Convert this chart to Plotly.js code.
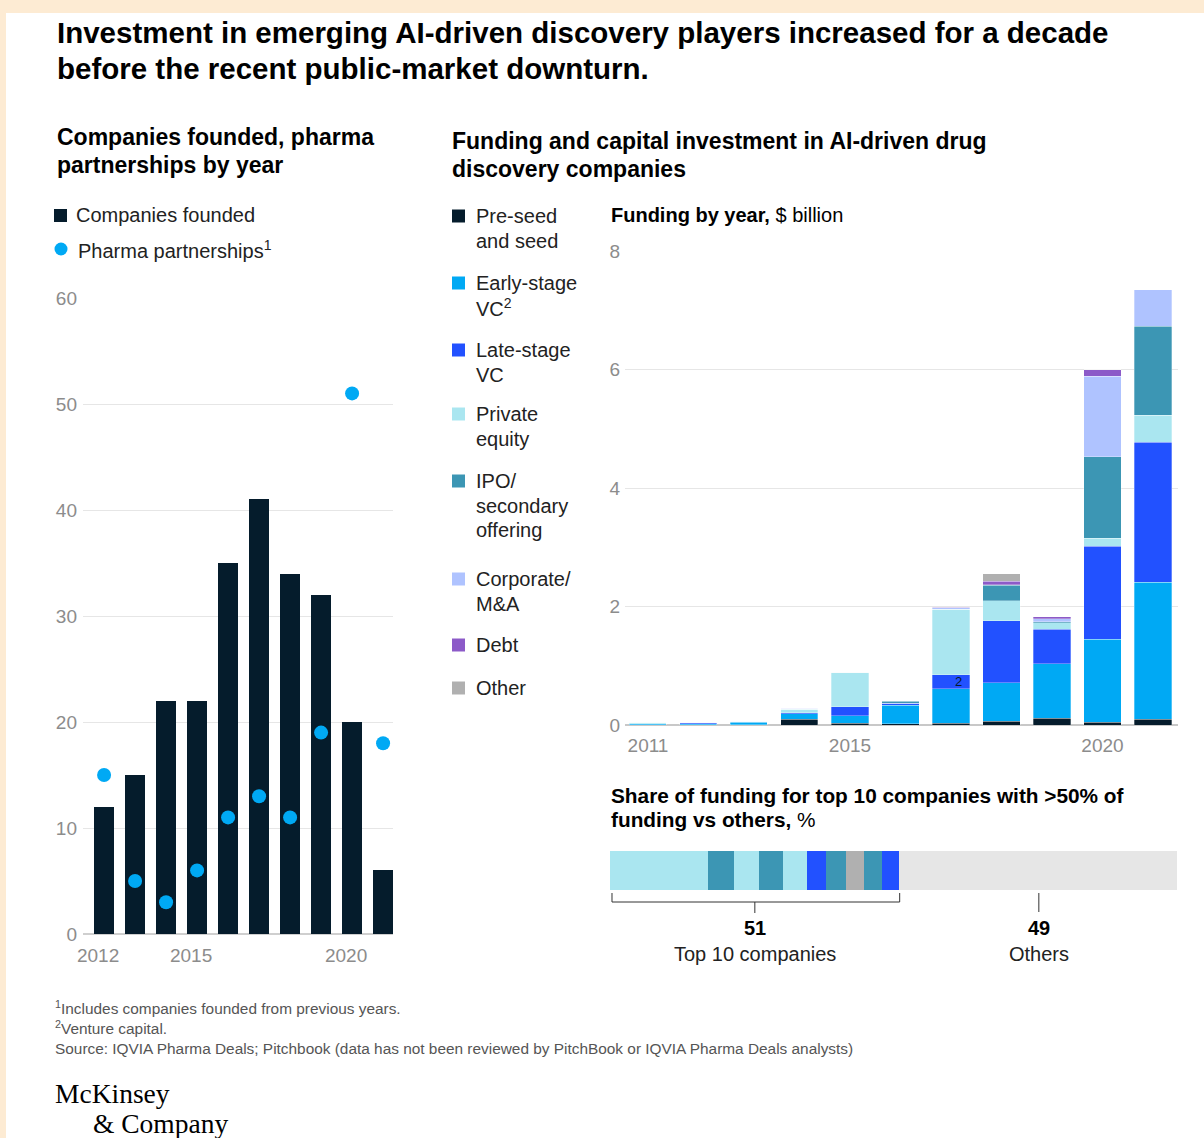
<!DOCTYPE html>
<html>
<head>
<meta charset="utf-8">
<script src="https://cdn.plot.ly/plotly-3.0.1.min.js"></script>
<style>
  html, body { margin: 0; padding: 0; background: #ffffff; }
  #chart { width: 1204px; height: 1138px; }
</style>
</head>
<body>
<div id="chart"></div>
<script>
// ---------------- DATA ----------------
const leftYears = [2012, 2013, 2014, 2015, 2016, 2017, 2018, 2019, 2020, 2021];
const companiesFounded = [12, 15, 22, 22, 35, 41, 34, 32, 20, 6];
const pharmaPartnerships = [15, 5, 3, 6, 11, 13, 11, 19, 51, 18];
const leftXTicks = [2012, 2015, 2020];
const leftYTicks = [0, 10, 20, 30, 40, 50, 60];

const fundYears = [2011, 2012, 2013, 2014, 2015, 2016, 2017, 2018, 2019, 2020, 2021];
const preSeed       = [0.005, 0.005, 0.005, 0.10, 0.03, 0.02, 0.03, 0.06, 0.115, 0.05, 0.10];
const earlyVC       = [0.02, 0.02, 0.04, 0.09, 0.125, 0.31, 0.585, 0.655, 0.92, 1.40, 2.31];
const lateVC        = [0.0, 0.02, 0.015, 0.02, 0.155, 0.04, 0.23, 1.045, 0.58, 1.57, 2.36];
const privateEquity = [0.02, 0, 0, 0.055, 0.58, 0, 1.11, 0.335, 0.115, 0.13, 0.46];
const ipoSecondary  = [0, 0, 0, 0, 0, 0.03, 0, 0.26, 0.015, 1.38, 1.5];
const corporateMA   = [0, 0, 0, 0.02, 0, 0.01, 0.02, 0.01, 0.05, 1.36, 0.62];
const debt          = [0, 0, 0, 0, 0, 0, 0.01, 0.06, 0.03, 0.11, 0];
const otherFunding  = [0, 0, 0, 0, 0, 0, 0, 0.125, 0, 0, 0];
const fundXTicks = [2011, 2015, 2020];
const fundYTicks = [0, 2, 4, 6, 8];

const shareCategories = ['Private equity', 'IPO', 'Private equity', 'IPO', 'Private equity',
                         'Late-stage VC', 'IPO', 'Other', 'IPO', 'Late-stage VC', 'Others'];
const shareValues = [17.2, 4.6, 4.5, 4.1, 4.2, 3.5, 3.4, 3.2, 3.1, 3.0, 49];
const shareTop10 = 51;
const shareOthers = 49;

// ---------------- STYLE ----------------
const W = 1204, H = 1138;
const FONT = 'Liberation Sans, Arial, sans-serif';
const SERIF = 'Liberation Serif, Times New Roman, serif';
const TICK_COLOR = '#8c8c8c';
const GRID = '#e6e6e6';
const C = {
  preSeed: '#051c2c', early: '#00a9f4', late: '#2251ff', pe: '#aae6f0',
  ipo: '#3c96b4', corp: '#afc3ff', debt: '#8c5ac8', other: '#b0b0b0', others: '#e6e6e6'
};
const shareColor = {
  'Private equity': C.pe, 'IPO': C.ipo, 'Late-stage VC': C.late, 'Other': C.other, 'Others': C.others
};

function px(x) { return x / W; }
function py(y) { return 1 - y / H; }
function txt(x, y, text, size, color, family, extra) {
  return Object.assign({
    xref: 'paper', yref: 'paper', x: px(x), y: py(y), xanchor: 'left', yanchor: 'middle',
    text: text, showarrow: false,
    font: { family: family || FONT, size: size, color: color || '#222222' }
  }, extra || {});
}

// ---------------- TRACES ----------------
const traces = [];
traces.push({
  type: 'bar', x: leftYears, y: companiesFounded, xaxis: 'x', yaxis: 'y',
  width: 0.645, marker: { color: C.preSeed }, hoverinfo: 'skip', showlegend: false
});
traces.push({
  type: 'scatter', mode: 'markers', x: leftYears, y: pharmaPartnerships, xaxis: 'x', yaxis: 'y',
  marker: { color: C.early, size: 14 }, hoverinfo: 'skip', showlegend: false
});

const fundSeries = [
  [preSeed, C.preSeed], [earlyVC, C.early], [lateVC, C.late], [privateEquity, C.pe],
  [ipoSecondary, C.ipo], [corporateMA, C.corp], [debt, C.debt], [otherFunding, C.other]
];
fundSeries.forEach(([vals, col]) => {
  traces.push({
    type: 'bar', x: fundYears, y: vals, xaxis: 'x2', yaxis: 'y2', width: 0.733,
    marker: { color: col, line: { color: 'rgba(255,255,255,0.5)', width: 0.6 } },
    hoverinfo: 'skip', showlegend: false
  });
});

shareValues.forEach((v, i) => {
  traces.push({
    type: 'bar', orientation: 'h', x: [v], y: [0], xaxis: 'x3', yaxis: 'y3', width: 1,
    marker: { color: shareColor[shareCategories[i]], line: { width: 0 } },
    hoverinfo: 'skip', showlegend: false
  });
});

// ---------------- LAYOUT ----------------
const annotations = [
  txt(55, 32, '<b>Investment in emerging AI-driven discovery players increased for a decade</b>', 29.5, '#000000'),
  txt(55, 68, '<b>before the recent public-market downturn.</b>', 29.5, '#000000'),

  txt(55, 137, '<b>Companies founded, pharma</b>', 23, '#000000'),
  txt(55, 165, '<b>partnerships by year</b>', 23, '#000000'),
  txt(450, 141, '<b>Funding and capital investment in AI-driven drug</b>', 23, '#000000'),
  txt(450, 169, '<b>discovery companies</b>', 23, '#000000'),

  txt(74, 215, 'Companies founded', 20),
  txt(76, 249, 'Pharma partnerships<sup>1</sup>', 20),

  txt(609, 215, '<b>Funding by year,</b> $ billion', 20, '#000000'),
  txt(609, 795, '<b>Share of funding for top 10 companies with &gt;50% of</b>', 20.8, '#000000'),
  txt(609, 819, '<b>funding vs others,</b> %', 20.8, '#000000'),

  txt(53, 1007, '<sup>1</sup>Includes companies founded from previous years.', 15.4, '#555555'),
  txt(53, 1027, '<sup>2</sup>Venture capital.', 15.4, '#555555'),
  txt(53, 1048, 'Source: IQVIA Pharma Deals; Pitchbook (data has not been reviewed by PitchBook or IQVIA Pharma Deals analysts)', 15.4, '#555555'),

  txt(53, 1093, 'McKinsey', 27.5, '#000000', SERIF),
  txt(91, 1123, '&amp; Company', 27.5, '#000000', SERIF)
];

const rightLegend = [
  [216, C.preSeed, ['Pre-seed', 'and seed']],
  [283, C.early, ['Early-stage', 'VC<sup>2</sup>']],
  [350, C.late, ['Late-stage', 'VC']],
  [414, C.pe, ['Private', 'equity']],
  [481, C.ipo, ['IPO/', 'secondary', 'offering']],
  [579, C.corp, ['Corporate/', 'M&A']],
  [645, C.debt, ['Debt']],
  [688, C.other, ['Other']]
];
const shapes = [
  // cream frame
  { type: 'rect', xref: 'paper', yref: 'paper', x0: 0, x1: 1, y0: py(13), y1: 1, fillcolor: '#fdebd3', line: { width: 0 }, layer: 'below' },
  { type: 'rect', xref: 'paper', yref: 'paper', x0: 0, x1: px(6), y0: 0, y1: 1, fillcolor: '#fdebd3', line: { width: 0 }, layer: 'below' },
  // left legend
  { type: 'rect', xref: 'paper', yref: 'paper', x0: px(54), x1: px(67), y0: py(222), y1: py(209), fillcolor: C.preSeed, line: { width: 0 } },
  { type: 'circle', xref: 'paper', yref: 'paper', x0: px(54.5), x1: px(67.5), y0: py(255.5), y1: py(242.5), fillcolor: C.early, line: { width: 0 } }
];
rightLegend.forEach(([y, col, lines]) => {
  shapes.push({ type: 'rect', xref: 'paper', yref: 'paper', x0: px(452), x1: px(465), y0: py(y + 6.5), y1: py(y - 6.5), fillcolor: col, line: { width: 0 } });
  lines.forEach((l, i) => annotations.push(txt(474, y + i * 24.5, l, 20)));
});

// bracket under share bar
const bk = { color: '#333333', width: 1 };
shapes.push(
  { type: 'line', xref: 'x3', yref: 'paper', x0: 0.35, x1: 0.35, y0: py(893), y1: py(902), line: bk },
  { type: 'line', xref: 'x3', yref: 'paper', x0: 0.35, x1: shareTop10, y0: py(902), y1: py(902), line: bk },
  { type: 'line', xref: 'x3', yref: 'paper', x0: shareTop10, x1: shareTop10, y0: py(893), y1: py(902), line: bk },
  { type: 'line', xref: 'x3', yref: 'paper', x0: shareTop10 / 2, x1: shareTop10 / 2, y0: py(902), y1: py(913), line: bk },
  { type: 'line', xref: 'x3', yref: 'paper', x0: shareTop10 + shareOthers / 2, x1: shareTop10 + shareOthers / 2, y0: py(893), y1: py(912), line: bk }
);
annotations.push(
  { xref: 'x3', yref: 'paper', x: shareTop10 / 2, y: py(928), xanchor: 'center', yanchor: 'middle', showarrow: false,
    text: '<b>' + shareTop10 + '</b>', font: { family: FONT, size: 20, color: '#000000' } },
  { xref: 'x3', yref: 'paper', x: shareTop10 / 2, y: py(954), xanchor: 'center', yanchor: 'middle', showarrow: false,
    text: 'Top 10 companies', font: { family: FONT, size: 20, color: '#222222' } },
  { xref: 'x3', yref: 'paper', x: shareTop10 + shareOthers / 2, y: py(928), xanchor: 'center', yanchor: 'middle', showarrow: false,
    text: '<b>' + shareOthers + '</b>', font: { family: FONT, size: 20, color: '#000000' } },
  { xref: 'x3', yref: 'paper', x: shareTop10 + shareOthers / 2, y: py(954), xanchor: 'center', yanchor: 'middle', showarrow: false,
    text: 'Others', font: { family: FONT, size: 20, color: '#222222' } },
  // stray footnote marker inside 2017 bar
  { xref: 'x2', yref: 'y2', x: 2017, y: preSeed[6] + earlyVC[6] + lateVC[6] / 2, xshift: 8, xanchor: 'center', yanchor: 'middle',
    showarrow: false, text: '2', font: { family: FONT, size: 13, color: '#051c2c' } }
);

const layout = {
  width: W, height: H,
  margin: { l: 0, r: 0, t: 0, b: 0, pad: 0 },
  paper_bgcolor: '#ffffff', plot_bgcolor: 'rgba(0,0,0,0)',
  barmode: 'stack', showlegend: false,
  font: { family: FONT },
  xaxis: {
    domain: [px(83), px(393)], range: [2011.32, 2021.32], anchor: 'y',
    tickvals: leftXTicks, ticktext: leftXTicks.map(String), ticks: '', showgrid: false, zeroline: false,
    showline: false, tickfont: { family: FONT, size: 19, color: TICK_COLOR }, ticklabelstandoff: 8, ticklabelshift: -6
  },
  yaxis: {
    domain: [py(934), py(298)], range: [0, 60], anchor: 'x',
    tickvals: leftYTicks, ticks: '', showgrid: true, gridcolor: GRID, gridwidth: 1,
    zeroline: true, zerolinecolor: '#cfcfcf', zerolinewidth: 1.5, showline: false,
    tickfont: { family: FONT, size: 19, color: TICK_COLOR }, ticklabelstandoff: 5
  },
  xaxis2: {
    domain: [px(625), px(1178)], range: [2010.545, 2021.495], anchor: 'y2',
    tickvals: fundXTicks, ticktext: fundXTicks.map(String), ticks: '', showgrid: false, zeroline: false,
    showline: false, tickfont: { family: FONT, size: 19, color: TICK_COLOR }, ticklabelstandoff: 7
  },
  yaxis2: {
    domain: [py(725), py(251)], range: [0, 8], anchor: 'x2',
    tickvals: fundYTicks, ticks: '', showgrid: true, gridcolor: GRID, gridwidth: 1,
    zeroline: true, zerolinecolor: '#c8c8c8', zerolinewidth: 2, showline: false,
    tickfont: { family: FONT, size: 19, color: TICK_COLOR }, ticklabelstandoff: 4
  },
  xaxis3: {
    domain: [px(610), px(1178)], range: [0, 100], anchor: 'y3',
    visible: false, fixedrange: true
  },
  yaxis3: {
    domain: [py(890), py(851)], range: [-0.5, 0.5], anchor: 'x3',
    visible: false, fixedrange: true
  },
  annotations: annotations,
  shapes: shapes
};

Plotly.newPlot('chart', traces, layout, { staticPlot: true, displayModeBar: false });
</script>
</body>
</html>
